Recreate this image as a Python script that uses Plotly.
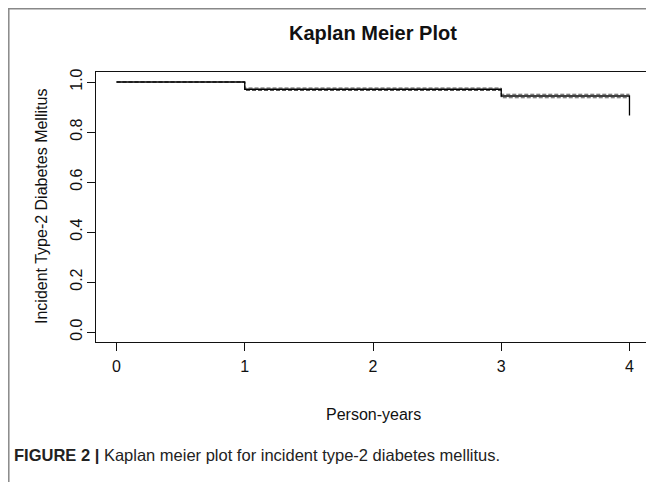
import plotly.graph_objects as go

# Kaplan-Meier estimate (step function)
times = [0, 1, 3, 4]
surv = [1.0, 0.971, 0.944, 0.866]
# confidence bands
ci_times = [0, 1, 3, 4]
upper = [1.0, 0.976, 0.951, 0.951]
lower = [1.0, 0.966, 0.937, 0.937]

x_ticks = [0, 1, 2, 3, 4]
x_tick_labels = ["0", "1", "2", "3", "4"]
y_ticks = [0.0, 0.2, 0.4, 0.6, 0.8, 1.0]
y_tick_labels = ["0.0", "0.2", "0.4", "0.6", "0.8", "1.0"]

OFF = 8  # page body margin
W, H = 654 - OFF, 482 - OFF
L, R, T, B = 96 - OFF, 4, 72 - OFF, 140
pw, ph = W - L - R, H - T - B


def px(x):
    return (x - OFF - L) / pw


def py(y):
    return (H - B - (y - OFF)) / ph


fig = go.Figure()
for yy in (upper, lower):
    fig.add_trace(go.Scatter(x=ci_times, y=yy, mode="lines", line_shape="hv",
                             line=dict(color="#555555", width=1.0, dash="4px,2px"),
                             showlegend=False, hoverinfo="skip"))
fig.add_trace(go.Scatter(x=times, y=surv, mode="lines", line_shape="hv",
                         line=dict(color="black", width=1.3), showlegend=False))

font = "Liberation Sans, Arial, sans-serif"
fig.update_layout(
    width=W, height=H,
    margin=dict(l=L, r=R, t=T, b=B),
    paper_bgcolor="white", plot_bgcolor="white",
    font=dict(family=font, color="#111111", size=16),
    xaxis=dict(range=[-0.16, 4.16], tickvals=x_ticks, ticktext=x_tick_labels,
               showgrid=False, zeroline=False, showline=True, mirror=True,
               linecolor="#111111", linewidth=1, ticks="outside", ticklen=8,
               tickcolor="#111111", tickfont=dict(size=16), ticklabelstandoff=2),
    yaxis=dict(range=[-0.04, 1.04], tickvals=y_ticks, ticktext=y_tick_labels,
               showgrid=False, zeroline=False, showline=True, mirror=True,
               linecolor="#111111", linewidth=1, ticks="outside", ticklen=8,
               tickcolor="#111111", tickangle=-90, tickfont=dict(size=16),
               ticklabelstandoff=-1),
    shapes=[
        dict(type="line", xref="paper", yref="paper",
             x0=-L / pw + 0.8 / pw, x1=-L / pw + 0.8 / pw, y0=py(8), y1=py(482),
             line=dict(color="#888888", width=1.5)),
        dict(type="line", xref="paper", yref="paper",
             x0=-L / pw, x1=px(654), y0=py(8.8), y1=py(8.8),
             line=dict(color="#888888", width=1.5)),
    ],
    annotations=[
        dict(text="<b>Kaplan Meier Plot</b>", xref="paper", yref="paper",
             x=0.5, y=py(33), showarrow=False, font=dict(size=20, color="#111111"),
             xanchor="center", yanchor="middle"),
        dict(text="Person-years", xref="paper", yref="paper",
             x=0.5, y=py(414), showarrow=False, font=dict(size=16),
             xanchor="center", yanchor="middle"),
        dict(text="Incident Type-2 Diabetes Mellitus", xref="paper", yref="paper",
             x=px(41), y=py(207), showarrow=False, textangle=-90, font=dict(size=16),
             xanchor="center", yanchor="middle"),
        dict(text="<b>FIGURE 2 |</b> Kaplan meier plot for incident type-2 diabetes mellitus.",
             xref="paper", yref="paper", x=px(12), y=py(455), showarrow=False,
             font=dict(size=16.5, color="#222222"), xanchor="left", yanchor="middle"),
    ],
)

fig.write_html("out.html")
